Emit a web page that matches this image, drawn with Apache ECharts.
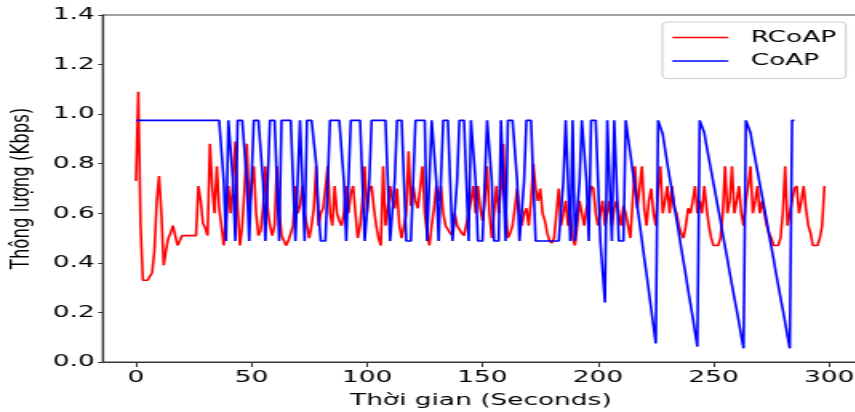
<!DOCTYPE html>
<html><head><meta charset="utf-8">
<script src="https://cdn.jsdelivr.net/npm/echarts@6/dist/echarts.min.js"></script>
<style>
html,body{margin:0;padding:0;background:#fff;overflow:hidden;width:855px;height:412px}
#c{width:535px;height:412px;transform:scaleX(1.6);transform-origin:0 0}
</style>
</head><body><div id="c"></div>
<script>
const H = 0.975, L = 0.488;
const xTicks = [0, 50, 100, 150, 200, 250, 300];
const seriesNames = ['RCoAP', 'CoAP'];
const seriesColors = ['#ff0000', '#0000ff'];
// RCoAP throughput, one value per second (t = 0..298)
const rcoap = [
0.73,1.09,0.55,0.33,0.33,0.33,0.33,0.36,0.45,0.65,
0.75,0.60,0.39,0.45,0.50,0.52,0.55,0.51,0.47,0.49,
0.51,0.51,0.51,0.51,0.51,0.51,0.51,0.71,0.65,0.56,
0.54,0.51,0.88,0.71,0.60,0.79,0.62,0.55,0.47,0.58,
0.71,0.60,0.72,0.89,0.62,0.47,0.55,0.70,0.88,0.62,
0.71,0.79,0.60,0.51,0.53,0.62,0.79,0.62,0.55,0.51,
0.55,0.79,0.62,0.51,0.49,0.47,0.49,0.52,0.55,0.71,
0.60,0.63,0.71,0.60,0.55,0.50,0.55,0.62,0.79,0.55,
0.60,0.62,0.70,0.79,0.60,0.55,0.71,0.60,0.57,0.55,
0.60,0.71,0.60,0.68,0.71,0.60,0.50,0.55,0.65,0.79,
0.60,0.70,0.71,0.62,0.55,0.50,0.47,0.79,0.55,0.62,
0.71,0.65,0.62,0.70,0.55,0.50,0.50,0.60,0.85,0.63,
0.71,0.65,0.62,0.70,0.79,0.60,0.52,0.47,0.55,0.62,
0.71,0.65,0.71,0.60,0.55,0.55,0.52,0.51,0.60,0.55,
0.55,0.52,0.51,0.51,0.60,0.65,0.71,0.60,0.71,0.62,
0.57,0.65,0.79,0.60,0.50,0.60,0.71,0.60,0.70,0.88,
0.62,0.50,0.52,0.55,0.62,0.70,0.60,0.55,0.60,0.62,
0.55,0.65,0.80,0.70,0.65,0.70,0.60,0.57,0.52,0.49,
0.48,0.50,0.60,0.70,0.55,0.60,0.65,0.55,0.60,0.50,
0.47,0.55,0.65,0.60,0.55,0.62,0.65,0.71,0.70,0.60,
0.55,0.60,0.65,0.55,0.60,0.65,0.55,0.62,0.65,0.60,
0.55,0.63,0.60,0.55,0.50,0.65,0.79,0.62,0.70,0.79,
0.62,0.55,0.65,0.70,0.60,0.55,0.70,0.79,0.60,0.65,
0.71,0.60,0.71,0.62,0.60,0.55,0.52,0.50,0.55,0.62,
0.60,0.65,0.71,0.60,0.65,0.60,0.71,0.62,0.55,0.50,
0.47,0.47,0.47,0.50,0.60,0.79,0.60,0.65,0.79,0.60,
0.65,0.71,0.60,0.55,0.65,0.71,0.79,0.60,0.65,0.71,
0.60,0.65,0.60,0.55,0.52,0.50,0.47,0.47,0.47,0.50,
0.60,0.79,0.55,0.60,0.65,0.70,0.71,0.60,0.65,0.71,
0.62,0.55,0.52,0.47,0.47,0.47,0.50,0.55,0.71
];
// CoAP throughput, one value per second (t = 0..285)
const coap = [
H,H,H,H,H,H,H,H,H,H,
H,H,H,H,H,H,H,H,H,H,
H,H,H,H,H,H,H,H,H,H,
H,H,H,H,H,H,H,H,0.73,L,
H,H,0.73,L,H,H,H,H,0.73,L,
L,H,H,H,H,0.73,L,L,H,H,
H,0.73,L,H,H,H,H,H,0.73,L,
L,H,0.73,L,H,H,H,H,0.80,0.60,
L,L,L,0.73,H,H,H,H,H,H,
0.73,L,L,H,H,H,H,H,0.73,L,
L,0.73,H,H,H,H,H,H,H,0.73,
L,L,0.73,H,H,H,0.73,L,L,L,
0.73,H,H,H,H,H,L,L,H,H,
0.73,L,0.73,H,H,H,0.73,L,L,0.73,
H,H,H,0.73,L,H,H,0.73,L,L,
L,0.73,H,H,0.73,L,L,L,H,0.73,
L,H,H,H,H,0.73,L,L,0.73,H,
H,H,0.73,L,L,L,L,L,L,L,
L,L,L,L,L,0.73,H,0.73,L,H,
L,L,0.73,H,H,0.73,L,H,H,H,
0.73,L,L,0.24,H,0.73,L,H,0.73,L,
L,L,H,0.905,0.84,0.77,0.70,0.63,0.56,0.49,
0.42,0.355,0.285,0.215,0.145,0.075,H,H,0.92,0.86,
0.80,0.745,0.69,0.63,0.575,0.52,0.46,0.405,0.35,0.29,
0.235,0.18,0.12,0.062,H,H,0.925,0.87,0.82,0.77,
0.72,0.67,0.62,0.57,0.515,0.465,0.415,0.36,0.31,0.26,
0.21,0.16,0.105,0.055,H,H,0.925,0.87,0.82,0.77,
0.72,0.67,0.62,0.57,0.515,0.465,0.415,0.36,0.31,0.26,
0.21,0.16,0.105,0.055,H,H
];
const FONT = 'DejaVu Sans';
const FS = 16.5;
const chart = echarts.init(document.getElementById('c'), null, {renderer: 'canvas', width: 535, height: 412});
chart.setOption({
  animation: false,
  backgroundColor: '#fff',
  grid: {left: 64.35, right: -1.8, top: 15, bottom: 50, containLabel: false, outerBoundsMode: 'none',
         show: true, borderColor: '#444', borderWidth: 1.2, backgroundColor: 'transparent'},
  legend: {
    orient: 'vertical', right: 6.3, top: 22,
    data: seriesNames.map((n, i) => ({name: n, itemStyle: {color: seriesColors[i]}})),
    icon: 'rect', itemWidth: 35, itemHeight: 1.5, itemGap: 6.5,
    padding: [7, 6, 9, 6.2],
    borderColor: '#ccc', borderWidth: 1, borderRadius: 3, backgroundColor: '#fff',
    textStyle: {fontFamily: FONT, fontSize: FS, color: '#000', padding: [0, 0, 0, 9]}
  },
  xAxis: {
    type: 'value', min: -14.3, max: 312.9,
    name: 'Thời gian (Seconds)', nameLocation: 'middle', nameGap: 30,
    nameTextStyle: {fontFamily: FONT, fontSize: FS, color: '#000'},
    axisLine: {show: true, onZero: false, lineStyle: {color: '#333', width: 1.2}},
    axisTick: {show: true, inside: false, length: 5, customValues: xTicks, lineStyle: {color: '#333'}},
    axisLabel: {customValues: xTicks, fontFamily: FONT, fontSize: FS, color: '#000', margin: 7},
    splitLine: {show: false}
  },
  yAxis: {
    type: 'value', min: 0, max: 1.4, interval: 0.2,
    name: 'Thông lượng (Kbps)', nameLocation: 'middle', nameGap: 31, nameRotate: 90,
    nameTextStyle: {fontFamily: FONT, fontSize: FS, color: '#000'},
    axisLine: {show: true, onZero: false, lineStyle: {color: '#333', width: 1.2}},
    axisTick: {show: true, inside: false, length: 3, lineStyle: {color: '#333'}},
    axisLabel: {fontFamily: FONT, fontSize: FS, color: '#000', margin: 5, formatter: v => v.toFixed(1)},
    splitLine: {show: false}
  },
  series: [
    {name: seriesNames[0], type: 'line', data: rcoap.map((v, i) => [i, v]), showSymbol: false, symbol: 'none',
     lineStyle: {color: seriesColors[0], width: 1.6}, itemStyle: {color: seriesColors[0]}},
    {name: seriesNames[1], type: 'line', data: coap.map((v, i) => [i, v]), showSymbol: false, symbol: 'none',
     lineStyle: {color: seriesColors[1], width: 1.6}, itemStyle: {color: seriesColors[1]}}
  ]
});
</script>
</body></html>
